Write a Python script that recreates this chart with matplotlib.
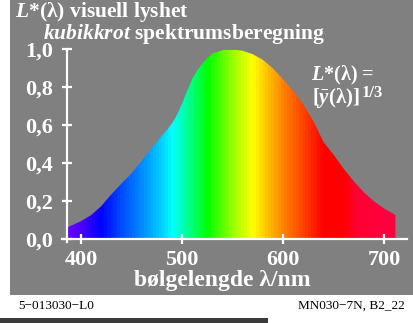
import numpy as np
import matplotlib
matplotlib.use("Agg")
import matplotlib.pyplot as plt
from matplotlib.patches import Rectangle, Polygon

plt.rcParams["mathtext.fontset"] = "custom"
plt.rcParams["mathtext.rm"] = "Liberation Serif:bold"
plt.rcParams["mathtext.it"] = "Liberation Serif:italic:bold"
plt.rcParams["mathtext.bf"] = "Liberation Serif:bold"

# L*(lambda)
wavelength = [387, 390, 400, 410, 420, 430, 440, 450, 460, 470, 480, 485,
              490, 495, 500, 505, 510, 515, 520, 525, 530, 540, 550, 560,
              570, 580, 590, 600, 610, 620, 630, 640, 650, 660, 670, 680,
              690, 700, 711]
lightness = [0.062, 0.070, 0.094, 0.126, 0.173, 0.235, 0.292, 0.346, 0.412,
             0.480, 0.545, 0.575, 0.610, 0.655, 0.715, 0.780, 0.845, 0.890,
             0.925, 0.955, 0.978, 0.997, 1.000, 0.993, 0.975, 0.945, 0.900,
             0.842, 0.780, 0.709, 0.620, 0.510, 0.444, 0.369, 0.303, 0.245,
             0.198, 0.160, 0.127]

yticks = [0.0, 0.2, 0.4, 0.6, 0.8, 1.0]
ytick_labels = ["0,0", "0,2", "0,4", "0,6", "0,8", "1,0"]
xticks = [400, 500, 600, 700]

# spectral colour keys for the stripes (style only)
key_wl = [385, 400, 420, 440, 460, 480, 490, 500, 510, 525, 550, 570, 585,
          600, 620, 640, 660, 672, 711]
key_rgb = [(0.42, 0.0, 1.0), (0.30, 0.0, 1.0), (0.0, 0.0, 1.0), (0.0, 0.30, 1.0),
           (0.0, 0.55, 1.0), (0.0, 0.82, 1.0), (0.0, 1.0, 1.0), (0.0, 1.0, 0.75),
           (0.0, 1.0, 0.45), (0.0, 1.0, 0.0), (0.60, 1.0, 0.0), (1.0, 1.0, 0.0),
           (1.0, 0.75, 0.0), (1.0, 0.50, 0.0), (1.0, 0.25, 0.0), (1.0, 0.0, 0.0),
           (1.0, 0.0, 0.0), (1.0, 0.0, 0.20), (1.0, 0.0, 0.25)]

W, H = 413, 323
fig = plt.figure(figsize=(W / 100, H / 100), dpi=100)
fig.patch.set_facecolor("white")

def fx(x):
    return x / W

def fy(y):
    return 1 - y / H

# grey panel and dark strip at the bottom
fig.patches.append(Rectangle((fx(10), fy(295)), fx(403), 295 / H,
                             transform=fig.transFigure, facecolor="#808080",
                             edgecolor="none", zorder=-10))
fig.patches.append(Rectangle((0, 0), fx(268), 5 / H, transform=fig.transFigure,
                             facecolor="#3a3a3a", edgecolor="none", zorder=-10))

# axes placement in pixels: x 62..407, y 0 at 239 and 1 at 50
px_per_nm = 1.011
x0 = 400 - (81 - 62) / px_per_nm
x1 = 400 + (407 - 81) / px_per_nm
yaxis_wl = 400 - (81 - 66.5) / px_per_nm
ylo = -0.03
ytop_px = 50 - 0.5
ybot_px = 239 - ylo * 189
ax = fig.add_axes([fx(62), fy(ybot_px), fx(407 - 62), (ybot_px - ytop_px) / H])
ax.set_facecolor("none")

# striped spectrum clipped to the curve
bands = np.arange(wavelength[0], wavelength[-1] + 3, 3)
cols = np.array([[np.interp(b + 1.5, key_wl, [c[i] for c in key_rgb]) for i in range(3)]
                 for b in bands])
img = ax.imshow(cols[np.newaxis, :, :], extent=[bands[0], bands[-1] + 3, 0, 1.02],
                aspect="auto", interpolation="nearest", zorder=1)
poly = Polygon(list(zip(wavelength, lightness)) + [(wavelength[-1], 0), (wavelength[0], 0)],
               closed=True, facecolor="none", edgecolor="none", transform=ax.transData)
ax.add_patch(poly)
img.set_clip_path(poly)
ax.set_xlim(x0, x1)
ax.set_ylim(ylo, 1.0)

for s in ["top", "right"]:
    ax.spines[s].set_visible(False)
ax.spines["left"].set_position(("data", yaxis_wl))
ax.spines["bottom"].set_position(("data", 0))
ax.spines["left"].set_bounds(-0.015, 1.0)
for s in ["left", "bottom"]:
    ax.spines[s].set_color("white")
    ax.spines[s].set_linewidth(1.6)
    ax.spines[s].set_zorder(3)

serif = "Liberation Serif"
ax.set_yticks(yticks)
ax.set_yticklabels(ytick_labels)
ax.set_xticks(xticks)
ax.tick_params(axis="both", direction="inout", length=7.5, width=1.6, color="white",
               labelcolor="white", labelsize=16)
ax.tick_params(axis="y", pad=6)
ax.tick_params(axis="x", pad=4)
for lab in ax.get_xticklabels() + ax.get_yticklabels():
    lab.set_fontfamily(serif)
    lab.set_fontweight("bold")

renderer = fig.canvas.get_renderer()
wt = dict(color="white", fontfamily=serif, fontweight="bold", ha="left",
          va="baseline", transform=fig.transFigure)

# title
fig.text(fx(15), fy(17), r"$\mathit{L}$*(λ) visuell lyshet", fontsize=15.5, **wt)
fig.text(fx(43), fy(38.5), r"$\mathit{kubikkrot}$ spektrumsberegning", fontsize=15.5, **wt)

# x label
fig.text(fx(222), fy(286), "bølgelengde λ/nm",
         **{**wt, "ha": "center", "fontsize": 17})

# formula at the right
fig.text(fx(311), fy(80), r"$\mathit{L}$*(λ) =", fontsize=14.5, **wt)
br = fig.text(fx(312), fy(103), r"[$\mathit{ȳ}$(λ)]", fontsize=15, **wt)
xe = 312 + br.get_window_extent(renderer).width
fig.text(fx(xe + 2), fy(97.5), "1/3", fontsize=12, **wt)

# footer
ft = dict(color="black", fontfamily=serif, fontsize=9.5, va="baseline",
          transform=fig.transFigure)
fig.text(fx(18), fy(309), "5−013030−L0", ha="left", **ft)
fig.text(fx(405), fy(309), "MN030−7N, B2_22", ha="right", **ft)

fig.savefig("out.png", dpi=100, facecolor=fig.get_facecolor())
